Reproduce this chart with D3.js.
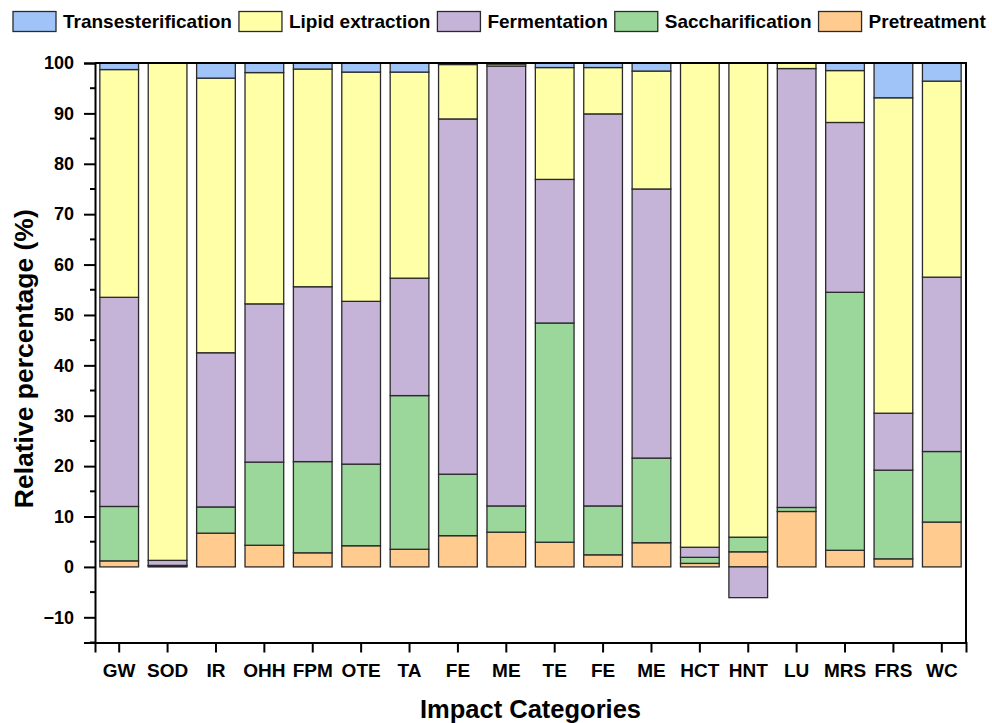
<!DOCTYPE html>
<html>
<head>
<meta charset="utf-8">
<script src="https://cdn.jsdelivr.net/npm/d3@7"></script>
<style>
  html, body { margin: 0; padding: 0; background: #ffffff; }
  svg { display: block; font-family: "Liberation Sans", Arial, sans-serif; }
</style>
</head>
<body>
<svg id="chart" width="992" height="723"></svg>
<script>
// Impact categories along the x axis (FE and ME appear twice)
const categories = ["GW", "SOD", "IR", "OHH", "FPM", "OTE", "TA", "FE", "ME", "TE", "FE", "ME", "HCT", "HNT", "LU", "MRS", "FRS", "WC"];

// Relative contribution of each process stage (%)
const pretreatment        = [1.2, 0.2, 6.7, 4.3, 2.8, 4.2, 3.5, 6.2, 6.9, 4.9, 2.4, 4.8, 0.7, 3.0, 11.0, 3.3, 1.6, 8.9];
const saccharification    = [10.8, 0.1, 5.2, 16.5, 18.1, 16.2, 30.5, 12.2, 5.2, 43.5, 9.7, 16.8, 1.2, 2.9, 0.8, 51.2, 17.6, 14.0];
const fermentation        = [41.5, 1.0, 30.6, 31.4, 34.7, 32.3, 23.3, 70.5, 87.3, 28.5, 77.8, 53.4, 2.0, -6.1, 87.1, 33.7, 11.3, 34.6];
const lipidExtraction     = [45.2, 98.7, 54.5, 45.9, 43.2, 45.5, 40.9, 10.8, 0.4, 22.2, 9.2, 23.4, 96.1, 94.1, 1.1, 10.3, 62.6, 38.9];
const transesterification = [1.3, 0.0, 3.0, 1.9, 1.2, 1.8, 1.8, 0.3, 0.2, 0.9, 0.9, 1.6, 0.0, 0.0, 0.0, 1.5, 6.9, 3.6];

// Series in stacking order (bottom to top)
const seriesNames = ["Pretreatment", "Saccharification", "Fermentation", "Lipid extraction", "Transesterification"];
const seriesValues = [pretreatment, saccharification, fermentation, lipidExtraction, transesterification];
const seriesColors = ["#FFCB8E", "#9BD69B", "#C6B4D8", "#FFFFA8", "#A0C4F8"];

// Legend order (left to right)
const legendOrder = ["Transesterification", "Lipid extraction", "Fermentation", "Saccharification", "Pretreatment"];

const yTicks = [-10, 0, 10, 20, 30, 40, 50, 60, 70, 80, 90, 100];
const yMinorTicks = [-15, -5, 5, 15, 25, 35, 45, 55, 65, 75, 85, 95];

const svg = d3.select("#chart");
const plot = { left: 95, right: 966, top: 63, bottom: 642.5 };

const rows = categories.map((c, i) => {
  const r = { idx: i };
  seriesNames.forEach((n, k) => { r[n] = seriesValues[k][i]; });
  return r;
});

const x = d3.scaleBand()
  .domain(d3.range(categories.length))
  .range([plot.left, plot.right])
  .paddingInner(0.2)
  .paddingOuter(0.1);

const y = d3.scaleLinear()
  .domain([-15, 100])
  .range([plot.bottom, plot.top]);

const color = d3.scaleOrdinal().domain(seriesNames).range(seriesColors);

const stacked = d3.stack()
  .keys(seriesNames)
  .offset(d3.stackOffsetDiverging)(rows);

// Bars
const layers = svg.append("g")
  .selectAll("g")
  .data(stacked)
  .join("g")
  .attr("fill", d => color(d.key));

layers.selectAll("rect")
  .data(d => d.filter(s => s[1] !== s[0]))
  .join("rect")
  .attr("x", d => x(d.data.idx))
  .attr("width", x.bandwidth())
  .attr("y", d => y(Math.max(d[0], d[1])))
  .attr("height", d => Math.abs(y(d[0]) - y(d[1])))
  .attr("stroke", "#2a2a2a")
  .attr("stroke-width", 1.3);

// Plot frame (top and right edges)
svg.append("path")
  .attr("d", `M${plot.left},${plot.top}H${plot.right}V${plot.bottom}`)
  .attr("fill", "none")
  .attr("stroke", "#000")
  .attr("stroke-width", 2);

// Y axis
const yAxis = svg.append("g")
  .attr("transform", `translate(${plot.left},0)`)
  .call(d3.axisLeft(y).tickValues(yTicks).tickSize(11).tickPadding(10).tickFormat(d => d < 0 ? "\u2212" + Math.abs(d) : d));
yAxis.select(".domain").attr("stroke-width", 2);
yAxis.selectAll(".tick line").attr("stroke-width", 2);
yAxis.selectAll(".tick text")
  .attr("font-size", 18)
  .attr("font-weight", "bold")
  .attr("font-family", "Liberation Sans, Arial, sans-serif")
  .attr("fill", "#000");

svg.append("g")
  .selectAll("line")
  .data(yMinorTicks)
  .join("line")
  .attr("x1", plot.left - 5)
  .attr("x2", plot.left)
  .attr("y1", d => y(d))
  .attr("y2", d => y(d))
  .attr("stroke", "#000")
  .attr("stroke-width", 2);

// X axis
const xAxis = svg.append("g")
  .attr("transform", `translate(0,${plot.bottom})`)
  .call(d3.axisBottom(x).tickSize(10).tickPadding(11).tickFormat(i => categories[i]));
xAxis.select(".domain").attr("stroke-width", 2);
xAxis.selectAll(".tick line").attr("stroke-width", 2);
xAxis.selectAll(".tick text")
  .attr("font-size", 19)
  .attr("font-weight", "bold")
  .attr("font-family", "Liberation Sans, Arial, sans-serif")
  .attr("fill", "#000");

// Axis titles
svg.append("text")
  .attr("transform", `translate(33,${(plot.top + plot.bottom) / 2 + 6}) rotate(-90)`)
  .attr("text-anchor", "middle")
  .attr("font-size", 26.5)
  .attr("font-weight", "bold")
  .text("Relative percentage (%)");

svg.append("text")
  .attr("x", (plot.left + plot.right) / 2)
  .attr("y", 718)
  .attr("text-anchor", "middle")
  .attr("font-size", 25.5)
  .attr("font-weight", "bold")
  .text("Impact Categories");

// Legend
const legend = svg.append("g");
let lx = 13;
legendOrder.forEach(name => {
  legend.append("rect")
    .attr("x", lx)
    .attr("y", 11.5)
    .attr("width", 43)
    .attr("height", 20)
    .attr("fill", color(name))
    .attr("stroke", "#2a2a2a")
    .attr("stroke-width", 1.3);
  const t = legend.append("text")
    .attr("x", lx + 50)
    .attr("y", 28)
    .attr("font-size", 19)
    .attr("font-weight", "bold")
    .text(name);
  lx += 50 + t.node().getComputedTextLength() + 7;
});
</script>
</body>
</html>
